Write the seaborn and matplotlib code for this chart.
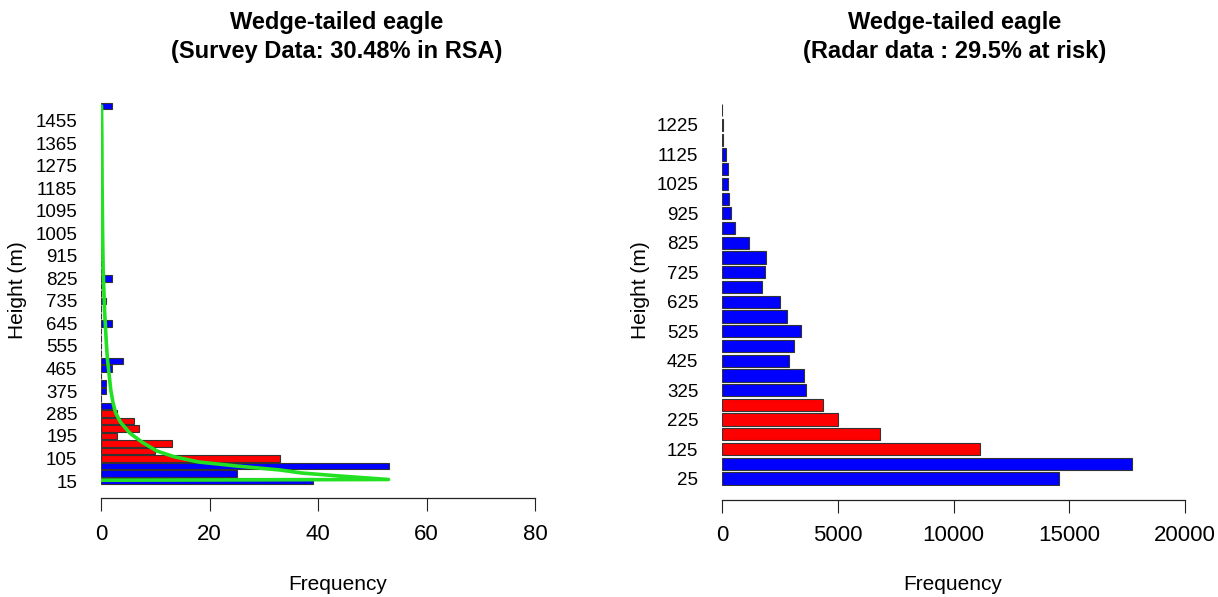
import numpy as np
import pandas as pd
import matplotlib.pyplot as plt
import seaborn as sns

sns.set_style("white")
plt.rcParams['font.family'] = ['Liberation Sans', 'DejaVu Sans']
plt.rcParams['text.color'] = 'black'
plt.rcParams['xtick.color'] = 'black'
plt.rcParams['ytick.color'] = 'black'

# survey data, 30 m height bins
survey_height = list(range(15, 1516, 30))
survey_freq = [39, 25, 53, 33, 10, 13, 3, 7, 6, 3,
               2, 0, 1, 1, 0, 2, 4, 0, 0, 0,
               0, 2, 0, 0, 1, 0, 0, 2, 0, 0,
               0, 0, 0, 0, 0, 0, 0, 0, 0, 0,
               0, 0, 0, 0, 0, 0, 0, 0, 0, 0,
               2]
survey_ticks = [15, 105, 195, 285, 375, 465, 555, 645, 735, 825,
                915, 1005, 1095, 1185, 1275, 1365, 1455]
survey_risk = [105, 135, 165, 195, 225, 255, 285]

# fitted curve over the survey bars
curve_h = [18, 21, 35, 47, 59, 75, 91, 112, 135, 170, 207, 250, 287, 330, 379,
           440, 500, 560, 620, 700, 860, 1000, 1200, 1400, 1515]
curve_f = [0, 53, 44, 37, 33, 25, 18, 13.5, 10.3, 7.6, 5.3, 3.6, 2.7, 2.2, 1.8,
           1.5, 1.2, 1.0, 0.85, 0.65, 0.4, 0.3, 0.2, 0.15, 0.1]

# radar data, 50 m height bins
radar_height = list(range(25, 1276, 50))
radar_freq = [14560, 17700, 11140, 6830, 5000, 4380, 3610, 3540, 2910, 3110,
              3400, 2810, 2490, 1730, 1860, 1900, 1165, 575, 390, 300,
              260, 260, 160, 25, 25, 0]
radar_ticks = [25, 125, 225, 325, 425, 525, 625, 725, 825, 925, 1025, 1125, 1225]
radar_risk = [125, 175, 225, 275]

W, H = 1218, 597
fig = plt.figure(figsize=(W / 100, H / 100), dpi=100)


def px_axes(x0, x1, y_top, y_bot):
    return fig.add_axes([x0 / W, 1 - y_bot / H, (x1 - x0) / W, (y_bot - y_top) / H])


def draw_bars(ax, heights, freqs, risk):
    df = pd.DataFrame({"height": heights, "freq": freqs})
    df["zone"] = np.where(df["height"].isin(risk), "risk", "safe")
    sns.barplot(data=df, x="freq", y="height", hue="zone", orient="y",
                native_scale=True, dodge=False, width=0.83, errorbar=None,
                palette={"risk": "#FF0000", "safe": "#0000FF"}, saturation=1,
                edgecolor="#333333", linewidth=0.8, legend=False, ax=ax)


def style_axes(ax, xmax, xticks, yticks, offset):
    ax.set_xlim(0, xmax)
    for s in ["left", "top", "right"]:
        ax.spines[s].set_visible(False)
    ax.spines["bottom"].set_position(("outward", offset))
    ax.spines["bottom"].set_bounds(0, xmax)
    ax.spines["bottom"].set_color("#222222")
    ax.spines["bottom"].set_linewidth(0.9)
    ax.set_xticks(xticks)
    ax.set_xticklabels([str(t) for t in xticks])
    ax.set_yticks(yticks)
    ax.set_yticklabels([str(t) for t in yticks])
    ax.tick_params(axis="x", direction="out", length=9.5, width=0.8,
                   color="#222222", labelsize=16, pad=9, bottom=True)
    ax.tick_params(axis="y", length=0, labelsize=13.5, pad=17)
    ax.set_xlabel("")
    ax.set_ylabel("")
    ax.grid(False)


# left panel: survey
ax1 = px_axes(101, 535, 102.25, 486)
draw_bars(ax1, survey_height, survey_freq, survey_risk)
sns.lineplot(x=curve_f, y=curve_h, sort=False, estimator=None,
             color="#22E022", lw=2.6, ax=ax1)
ax1.set_ylim(-5, 1530)
style_axes(ax1, 80, [0, 20, 40, 60, 80], survey_ticks, 8.6)

# right panel: radar
ax2 = px_axes(722, 1185, 102.9, 485.9)
draw_bars(ax2, radar_height, radar_freq, radar_risk)
ax2.set_ylim(0, 1300)
style_axes(ax2, 20000, [0, 5000, 10000, 15000, 20000], radar_ticks, 10)

# titles and axis labels
fig.text(337 / W, 1 - 37 / H, "Wedge-tailed eagle\n(Survey Data: 30.48% in RSA)",
         ha="center", va="center", fontsize=17, fontweight="bold", linespacing=1.38)
fig.text(955 / W, 1 - 37 / H, "Wedge-tailed eagle\n(Radar data : 29.5% at risk)",
         ha="center", va="center", fontsize=17, fontweight="bold", linespacing=1.38)
fig.text(18 / W, 1 - 290 / H, "Height (m)", rotation=90, ha="center", va="center", fontsize=15)
fig.text(641 / W, 1 - 290 / H, "Height (m)", rotation=90, ha="center", va="center", fontsize=15)
fig.text(338 / W, 1 - 585 / H, "Frequency", ha="center", va="center", fontsize=15)
fig.text(953 / W, 1 - 585 / H, "Frequency", ha="center", va="center", fontsize=15)

fig.savefig("out.png", dpi=100)
